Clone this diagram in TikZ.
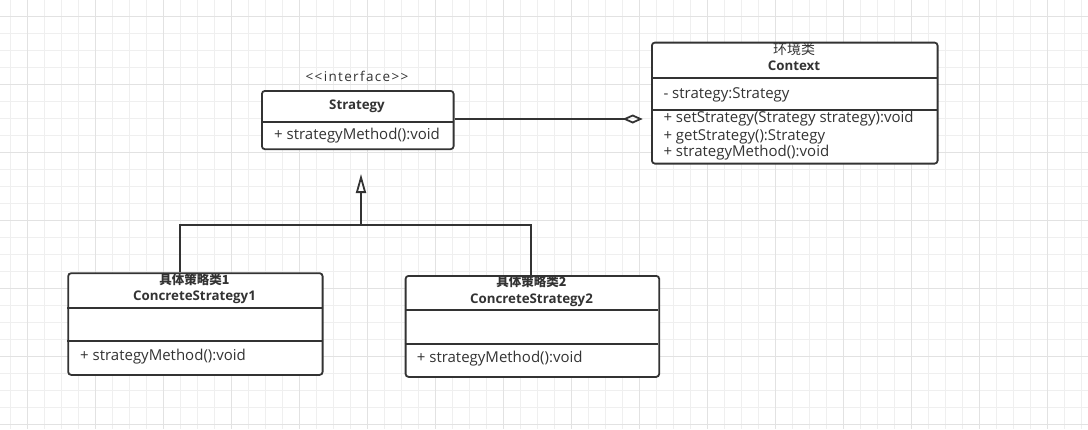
\documentclass[tikz,border=0pt]{standalone}
\usepackage{fontspec}
\setmainfont{Open Sans}
\newfontfamily\cjk{Noto Sans CJK SC}
\usetikzlibrary{arrows.meta}
\definecolor{ink}{HTML}{333333}
\definecolor{gminor}{HTML}{EFEFEF}
\definecolor{gmajor}{HTML}{E2E2E2}
\tikzset{
  umlbox/.style={draw=ink, line width=1.8pt, rounded corners=3pt, fill=white, rectangle, inner sep=0pt, anchor=north west},
  divider/.style={draw=ink, line width=1.8pt},
  conn/.style={draw=ink, line width=1.8pt},
  txt/.style={inner sep=0pt, text=ink, font=\fontsize{15}{17}\selectfont},
  btxt/.style={txt, font=\fontsize{13.3}{15}\selectfont\bfseries},
  cjktxt/.style={txt, font=\cjk\fontsize{12.5}{14}\selectfont\bfseries},
  member/.style={txt, anchor=mid west},
}
\begin{document}
\begin{tikzpicture}[x=1pt,y=-1pt]
\useasboundingbox (0,0) rectangle (1088,429);
\fill[white] (0,0) rectangle (1088,429);
% grid
\foreach \k in {0,...,63} {\draw[gminor, line width=0.8pt] (10.3+17*\k,0) -- (10.3+17*\k,429);}
\foreach \k in {-1,...,24} {\draw[gminor, line width=0.8pt] (0,16+17*\k) -- (1088,16+17*\k);}
\foreach \k in {0,...,15} {\draw[gmajor, line width=0.8pt] (27.3+68*\k,0) -- (27.3+68*\k,429);}
\foreach \k in {0,...,6} {\draw[gmajor, line width=0.8pt] (0,16+68*\k) -- (1088,16+68*\k);}

% Strategy interface
\node[umlbox, minimum width=191.7pt, minimum height=58.3pt] (strat) at (261,90) {};
\draw[divider] (261,122.3) -- (452.7,122.3);
\node[txt, anchor=mid, font=\fontsize{13.5}{15}\selectfont] (stereo) at (357,79) {\addfontfeature{LetterSpace=10}<{}<interface>{}>};
\node[btxt, anchor=mid] (stratname) at (357,106.7) {Strategy};
\node[member] (stratm) at (274,137.3) {+ strategyMethod():void};

% Context
\node[umlbox, minimum width=285.7pt, minimum height=121pt] (ctx) at (651,41.7) {};
\draw[divider] (651,77.7) -- (936.7,77.7);
\draw[divider] (651,110.3) -- (936.7,110.3);
\node[txt, anchor=mid, font=\cjk\fontsize{14}{16}\selectfont] (ctxcn) at (794,52.3) {环境类};
\node[btxt, anchor=mid] (ctxname) at (794,68.3) {Context};
\node[member] (ctxa) at (663.3,95.7) {- strategy:Strategy};
\node[member] (ctxm1) at (663.3,120) {+ setStrategy(Strategy strategy):void};
\node[member] (ctxm2) at (663.3,137.7) {+ getStrategy():Strategy};
\node[member] (ctxm3) at (663.3,154.3) {+ strategyMethod():void};

% ConcreteStrategy1
\node[umlbox, minimum width=254.4pt, minimum height=101.7pt] (cs1) at (67.3,272.3) {};
\draw[divider] (67.3,307.7) -- (321.7,307.7);
\draw[divider] (67.3,341) -- (321.7,341);
\node[cjktxt, anchor=mid] (cs1cn) at (194.5,281.7) {具体策略类1};
\node[btxt, anchor=mid] (cs1name) at (194.5,298.3) {ConcreteStrategy1};
\node[member] (cs1m) at (80,357.7) {+ strategyMethod():void};

% ConcreteStrategy2
\node[umlbox, minimum width=253.6pt, minimum height=101pt] (cs2) at (404.7,275) {};
\draw[divider] (404.7,310) -- (658.3,310);
\draw[divider] (404.7,344) -- (658.3,344);
\node[cjktxt, anchor=mid] (cs2cn) at (531.5,284.3) {具体策略类2};
\node[btxt, anchor=mid] (cs2name) at (531.5,301) {ConcreteStrategy2};
\node[member] (cs2m) at (416.7,360) {+ strategyMethod():void};

% aggregation
\coordinate (aggend) at (642.7,119);
\draw[conn, -{Diamond[open, length=20pt, width=9pt, line width=1.8pt]}] (strat.east |- aggend) -- (aggend);

% realization
\coordinate (j1) at (180,225);
\coordinate (j2) at (531.3,225);
\coordinate (jm) at (361,225);
\coordinate (inh) at (361,174);
\draw[conn] (cs1.north -| j1) -- (j1) -- (j2) -- (cs2.north -| j2);
\draw[conn, -{Triangle[open, length=19pt, width=10pt, line width=1.8pt]}] (jm) -- (inh);
\end{tikzpicture}
\end{document}
